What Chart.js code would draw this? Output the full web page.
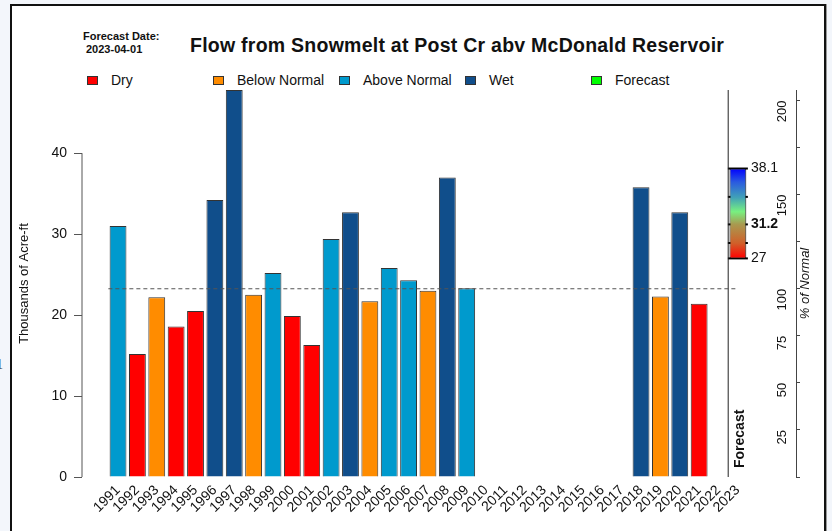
<!DOCTYPE html>
<html>
<head>
<meta charset="utf-8">
<script src="https://cdn.jsdelivr.net/npm/chart.js@4.4.1/dist/chart.umd.min.js"></script>
<style>
  html, body { margin: 0; padding: 0; }
  body {
    width: 832px; height: 531px; overflow: hidden; position: relative;
    background: #f3f6fb; font-family: "Liberation Sans", Arial, sans-serif; color: #111;
  }
  #frame {
    position: absolute; left: 10px; top: 4px; width: 812px; height: 600px;
    background: #fff; border: 2px solid #111; box-shadow: 1px 0 0 #999;
  }
  #chart { position: absolute; left: 0; top: 0; }
  .txt { position: absolute; white-space: nowrap; line-height: 1; }
  .key { position: absolute; width: 9px; height: 7px; border: 1px solid #333; }
  #stray { left: -4px; top: 357px; font: 14px "Liberation Serif", serif; color: #333; }
</style>
</head>
<body>
<div id="frame"></div>
<div class="txt" id="stray">1</div>
<div class="txt" style="left:83px; top:30.7px; font-weight:bold; font-size:11px;">Forecast Date:</div>
<div class="txt" style="left:86px; top:43.7px; font-weight:bold; font-size:11px;">2023-04-01</div>
<div class="txt" style="left:190px; top:35.5px; font-weight:bold; font-size:19.5px; letter-spacing:0.25px;">Flow from Snowmelt at Post Cr abv McDonald Reservoir</div>
<div id="legend"></div>
<canvas id="chart" width="832" height="531"></canvas>
<script>
// Valeurs (milliers d'acre-ft)
const years = [1991, 1992, 1993, 1994, 1995, 1996, 1997, 1998, 1999, 2000, 2001,
  2002, 2003, 2004, 2005, 2006, 2007, 2008, 2009, 2010, 2011, 2012, 2013, 2014,
  2015, 2016, 2017, 2018, 2019, 2020, 2021, 2022, 2023];
const flows = [31.0, 15.2, 22.2, 18.6, 20.5, 34.2, 47.8, 22.5, 25.2, 19.9, 16.3,
  29.4, 32.7, 21.7, 25.8, 24.3, 23.0, 37.0, 23.3, null, null, null, null, null,
  null, null, null, 35.8, 22.3, 32.7, 21.4, null, null];
const yearClass = ['Above Normal', 'Dry', 'Below Normal', 'Dry', 'Dry', 'Wet', 'Wet',
  'Below Normal', 'Above Normal', 'Dry', 'Dry', 'Above Normal', 'Wet', 'Below Normal',
  'Above Normal', 'Above Normal', 'Below Normal', 'Wet', 'Above Normal', null, null,
  null, null, null, null, null, null, 'Wet', 'Below Normal', 'Wet', 'Dry', null, null];

const classNames = ['Dry', 'Below Normal', 'Above Normal', 'Wet', 'Forecast'];
const classColors = ['#ff0000', '#ff8c00', '#009acd', '#104e8b', '#00ff00'];

const normalFlow = 23.25;
const forecastYear = 2023;
const forecastRange = [27, 38.1];
const forecastMarks = [27, 28.9, 31.2, 34.6, 38.1];
const forecastLabels = [38.1, 31.2, 27];
const forecastMedian = 31.2;

const leftTicks = [0, 10, 20, 30, 40];
const rightTicks = [0, 25, 50, 75, 100, 125, 150, 175, 200];
const rightTickLabels = ['', '25', '50', '75', '100', '', '150', '', '200'];

const yMax = 47.8;
const xMin = 1989.14;
const xMax = 2026.0;

const FONT = '"Liberation Sans", Arial, sans-serif';

// légende en colonnes fixes, comme dans l'original
const legend = document.getElementById('legend');
classNames.forEach((name, i) => {
  const sq = document.createElement('div');
  sq.className = 'key';
  sq.style.left = (87 + 126 * i) + 'px';
  sq.style.top = '76px';
  sq.style.background = classColors[i];
  legend.appendChild(sq);
  const t = document.createElement('div');
  t.className = 'txt';
  t.style.left = (111 + 126 * i) + 'px';
  t.style.top = '73.2px';
  t.style.fontSize = '14px';
  t.textContent = name;
  legend.appendChild(t);
});

function colorOf(cls) {
  const i = classNames.indexOf(cls);
  return i >= 0 ? classColors[i] : 'transparent';
}

function forecastFill(context) {
  const { ctx, chartArea, scales } = context.chart;
  if (!chartArea) return null;
  const y0 = scales.y.getPixelForValue(forecastRange[0]);
  const y1 = scales.y.getPixelForValue(forecastRange[1]);
  const g = ctx.createLinearGradient(0, y0, 0, y1);
  g.addColorStop(0, '#ff0000');
  g.addColorStop(0.17, '#d0602a');
  g.addColorStop(0.38, '#a89a50');
  g.addColorStop(0.52, '#78f080');
  g.addColorStop(0.68, '#40a0b8');
  g.addColorStop(0.85, '#2a5ae0');
  g.addColorStop(1, '#0000ff');
  return g;
}

const annotate = {
  id: 'annotate',
  afterDatasetsDraw(chart) {
    const { ctx, chartArea, scales: { x, y } } = chart;
    const fx = x.getPixelForValue(forecastYear);
    ctx.save();
    ctx.fillStyle = '#111';
    ctx.textBaseline = 'middle';
    ctx.textAlign = 'left';
    forecastLabels.forEach((v) => {
      ctx.font = (v === forecastMedian ? 'bold ' : '') + '14px ' + FONT;
      ctx.fillText(String(v), fx + 13, y.getPixelForValue(v));
    });
    ctx.save();
    ctx.translate(fx + 2, y.getPixelForValue(0) - 9);
    ctx.rotate(-Math.PI / 2);
    ctx.font = 'bold 14px ' + FONT;
    ctx.fillText('Forecast', 0, 0);
    ctx.restore();
    ctx.translate(chartArea.right + 9, (chartArea.top + chartArea.bottom) / 2);
    ctx.rotate(-Math.PI / 2);
    ctx.textAlign = 'center';
    ctx.font = 'italic 13px ' + FONT;
    ctx.fillText('% of Normal', 0, 0);
    ctx.restore();
  },
};

new Chart(document.getElementById('chart'), {
  type: 'bar',
  data: {
    datasets: [
      {
        type: 'line',
        data: [{ x: 1990.5, y: normalFlow }, { x: forecastYear, y: normalFlow }],
        borderColor: '#555',
        borderWidth: 1,
        borderDash: [4, 3],
        pointRadius: 0,
      },
      {
        type: 'line',
        data: [{ x: forecastYear - 0.5, y: 0 }, { x: forecastYear - 0.5, y: yMax }],
        borderColor: '#222',
        borderWidth: 1,
        pointRadius: 0,
        clip: false,
      },
      {
        type: 'line',
        data: [{ x: xMin, y: leftTicks[0] }, { x: xMin, y: leftTicks[leftTicks.length - 1] }],
        borderColor: '#555',
        borderWidth: 1,
        pointRadius: 0,
        clip: false,
      },
      {
        type: 'bar',
        data: years.map((yr, i) => ({ x: yr, y: flows[i] })),
        backgroundColor: yearClass.map(colorOf),
        borderColor: '#333',
        borderWidth: 1,
        grouped: false,
        categoryPercentage: 1,
        barPercentage: 0.87,
      },
      {
        type: 'bar',
        data: [{ x: forecastYear, y: forecastRange }],
        backgroundColor: forecastFill,
        borderColor: '#111',
        borderWidth: 1,
        borderSkipped: false,
        grouped: false,
        categoryPercentage: 1,
        barPercentage: 0.87,
      },
      {
        type: 'scatter',
        data: forecastMarks.map((v) => ({ x: forecastYear, y: v })),
        pointStyle: 'line',
        pointRadius: 10,
        borderColor: '#000',
        borderWidth: 2,
      },
    ],
  },
  options: {
    responsive: false,
    animation: false,
    layout: { padding: { top: 90, left: 0, right: 0, bottom: 0 } },
    plugins: { legend: { display: false }, tooltip: { enabled: false } },
    scales: {
      x: {
        type: 'linear',
        min: xMin,
        max: xMax,
        offset: false,
        afterBuildTicks: (s) => { s.ticks = years.map((v) => ({ value: v })); },
        afterFit: (s) => { s.height = 54; s.paddingLeft = 0; s.paddingRight = 0; },
        border: { display: false },
        grid: { display: false, drawTicks: false, offset: false },
        ticks: {
          autoSkip: false, minRotation: 45, maxRotation: 45, padding: 5,
          color: '#111', font: { family: FONT, size: 14 },
          callback: (v) => String(v),
        },
      },
      y: {
        min: 0,
        max: yMax,
        afterBuildTicks: (s) => { s.ticks = leftTicks.map((v) => ({ value: v })); },
        afterFit: (s) => { s.width = 82; },
        border: { display: false },
        grid: { drawOnChartArea: false, tickLength: 8, color: '#555' },
        ticks: { padding: 7, color: '#111', font: { family: FONT, size: 14 } },
        title: {
          display: true, text: 'Thousands of Acre-ft', color: '#111',
          font: { family: FONT, size: 13 }, padding: { top: 17, bottom: 0 },
        },
      },
      y2: {
        position: 'right',
        min: 0,
        max: yMax / normalFlow * 100,
        afterBuildTicks: (s) => { s.ticks = rightTicks.map((v) => ({ value: v })); },
        afterFit: (s) => { s.width = 36; },
        border: { display: true, color: '#444' },
        grid: { drawOnChartArea: false, tickLength: 4, color: '#444' },
        ticks: {
          mirror: true, padding: -14, minRotation: 90, maxRotation: 90,
          color: '#111', font: { family: FONT, size: 13 },
          callback: (v, i) => rightTickLabels[i],
        },
      },
    },
  },
  plugins: [annotate],
});
</script>
</body>
</html>
